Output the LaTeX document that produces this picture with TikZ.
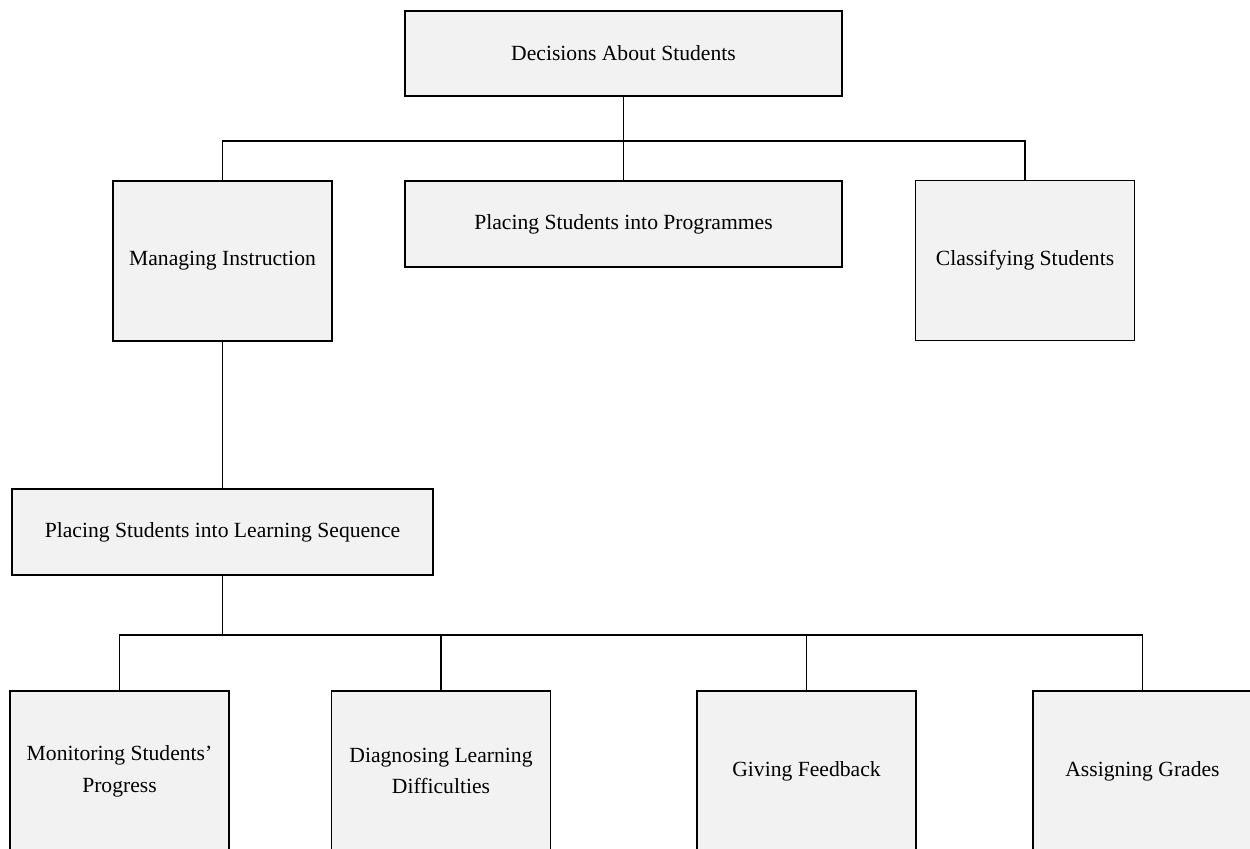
\documentclass[tikz,border=0pt]{standalone}
\usepackage{fontspec}
\setmainfont{Liberation Serif}
\definecolor{boxfill}{RGB}{242,242,242}
\tikzset{
  decbox/.style={draw, fill=boxfill, line width=0.8pt, align=center, inner sep=2pt, font=\fontsize{12.3}{18}\selectfont},
  widebox/.style={decbox, minimum width=8.74cm, minimum height=1.7cm},
  tallbox/.style={decbox, minimum width=4.38cm, minimum height=3.2cm},
  link/.style={line width=0.8pt}
}
\begin{document}
\begin{tikzpicture}
\useasboundingbox (0,0) rectangle (25,-16.96);
\clip (0,0) rectangle (25,-16.96);

\node[widebox] (decide) at (12.47,-1.07) {Decisions About Students};
\node[tallbox] (manage) at (4.45,-5.22) {Managing Instruction};
\node[widebox, minimum height=1.72cm] (programme) at (12.47,-4.48) {Placing Students into Programmes};
\node[tallbox] (classify) at (20.5,-5.21) {Classifying Students};

\node[widebox, minimum width=8.42cm, minimum height=1.72cm] (sequence) at (4.45,-10.64) {Placing Students into Learning Sequence};

\node[tallbox] (monitor) at (2.39,-15.42) {Monitoring Students'\\Progress};
\node[tallbox] (diagnose) at (8.82,-15.42) {Diagnosing Learning\\Difficulties};
\node[tallbox] (feedback) at (16.13,-15.42) {Giving Feedback};
\node[tallbox] (grades) at (22.85,-15.42) {Assigning Grades};

\coordinate (busa) at (12.47,-2.82);
\coordinate (busb) at (4.45,-12.7);

\draw[link] (decide.south) -- (programme.north);
\draw[link] (manage.north) |- (busa) -| (classify.north);
\draw[link] (manage.south) -- (sequence.north);
\draw[link] (sequence.south) -- (busb);
\draw[link] (monitor.north) |- (busb) -| (grades.north);
\draw[link] (diagnose.north) -- (diagnose.north |- busb);
\draw[link] (feedback.north) -- (feedback.north |- busb);
\end{tikzpicture}
\end{document}
